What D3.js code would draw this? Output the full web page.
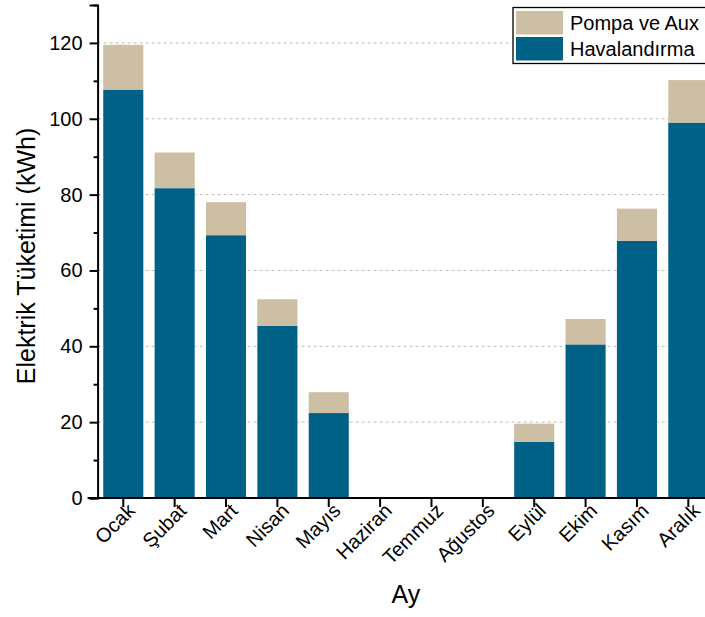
<!DOCTYPE html>
<html>
<head>
<meta charset="utf-8">
<script src="https://cdn.jsdelivr.net/npm/d3@7"></script>
<style>
  body { margin: 0; background: #fff; }
  svg { display: block; font-family: "Liberation Sans", Arial, sans-serif; }
</style>
</head>
<body>
<svg id="chart" width="705" height="617"></svg>
<script>
const months = ["Ocak", "Şubat", "Mart", "Nisan", "Mayıs", "Haziran", "Temmuz", "Ağustos", "Eylül", "Ekim", "Kasım", "Aralık"];
const havalandirma = [107.7, 81.7, 69.3, 45.4, 22.4, 0, 0, 0, 14.8, 40.5, 67.8, 99.0];
const pompaAux = [11.8, 9.4, 8.7, 7.0, 5.5, 0, 0, 0, 4.8, 6.7, 8.5, 11.2];
const seriesNames = ["Pompa ve Aux", "Havalandırma"];
const yTicks = [0, 20, 40, 60, 80, 100, 120];
const yMinorTicks = [10, 30, 50, 70, 90, 110, 130];

const colBlue = "#006186";
const colTan = "#cdbfa4";

const svg = d3.select("#chart");
const x0 = 97.6, x1 = 714, yTop = 5, yBase = 498;

const x = d3.scaleBand().domain(months).range([x0, x1]).paddingInner(0.22).paddingOuter(0.11);
const y = d3.scaleLinear().domain([0, 130]).range([yBase, yTop]);

// gridlines
svg.append("g").selectAll("line").data(yTicks.filter(d => d > 0)).join("line")
  .attr("x1", x0).attr("x2", 705)
  .attr("y1", d => y(d)).attr("y2", d => y(d))
  .attr("stroke", "#bdbdbd").attr("stroke-width", 1).attr("stroke-dasharray", "3,3");

// stacked bars
const rows = months.map((m, i) => ({ m, h: havalandirma[i], p: pompaAux[i] }));
const barG = svg.append("g");
barG.selectAll("rect.h").data(rows.filter(d => d.h > 0)).join("rect")
  .attr("class", "h")
  .attr("x", d => x(d.m)).attr("width", x.bandwidth())
  .attr("y", d => y(d.h)).attr("height", d => y(0) - y(d.h))
  .attr("fill", colBlue);
barG.selectAll("rect.p").data(rows.filter(d => d.p > 0)).join("rect")
  .attr("class", "p")
  .attr("x", d => x(d.m)).attr("width", x.bandwidth())
  .attr("y", d => y(d.h + d.p)).attr("height", d => y(d.h) - y(d.h + d.p))
  .attr("fill", colTan);

// y axis
const yAxisG = svg.append("g").attr("transform", `translate(${x0},0)`);
yAxisG.call(d3.axisLeft(y).tickValues(yTicks).tickSize(8).tickPadding(7).tickFormat(d3.format("d")));
yAxisG.append("g").call(d3.axisLeft(y).tickValues(yMinorTicks).tickSize(4).tickFormat(""))
  .select(".domain").remove();
yAxisG.selectAll(".domain").attr("stroke", "#000").attr("stroke-width", 2);
yAxisG.selectAll(".tick line").attr("stroke", "#000").attr("stroke-width", 2);
yAxisG.selectAll(".tick text").attr("font-size", 20).attr("fill", "#000")
  .attr("font-family", "Liberation Sans, Arial, sans-serif");

// x axis
const xAxisG = svg.append("g").attr("transform", `translate(0,${yBase})`);
xAxisG.call(d3.axisBottom(x).tickSize(9).tickSizeOuter(0).tickFormat(""));
xAxisG.select(".domain").attr("stroke", "#000").attr("stroke-width", 2).attr("d", `M${x0 - 10},0H${x1}`);
xAxisG.selectAll(".tick line").attr("stroke", "#000").attr("stroke-width", 2);

// x tick labels rotated
svg.append("g").selectAll("text").data(months).join("text")
  .attr("transform", d => `translate(${x(d) + x.bandwidth() / 2 + 13},${yBase + 14}) rotate(-45)`)
  .attr("text-anchor", "end")
  .attr("font-size", 20).attr("fill", "#000")
  .text(d => d);

// axis titles
svg.append("text")
  .attr("transform", `translate(35,256) rotate(-90)`)
  .attr("text-anchor", "middle").attr("font-size", 25).attr("fill", "#000")
  .text("Elektrik Tüketimi (kWh)");
svg.append("text")
  .attr("x", 405.8).attr("y", 603)
  .attr("text-anchor", "middle").attr("font-size", 25).attr("fill", "#000")
  .text("Ay");

// legend
const lg = svg.append("g");
lg.append("rect").attr("x", 513).attr("y", 7.5).attr("width", 200).attr("height", 56)
  .attr("fill", "#fff").attr("stroke", "#000").attr("stroke-width", 1.3);
const legendColors = [colTan, colBlue];
seriesNames.forEach((name, i) => {
  lg.append("rect").attr("x", 516).attr("y", 11 + i * 26).attr("width", 47).attr("height", 23.5)
    .attr("fill", legendColors[i]);
  lg.append("text").attr("x", 570).attr("y", 30 + i * 26)
    .attr("font-size", 20).attr("fill", "#000").text(name);
});
</script>
</body>
</html>
